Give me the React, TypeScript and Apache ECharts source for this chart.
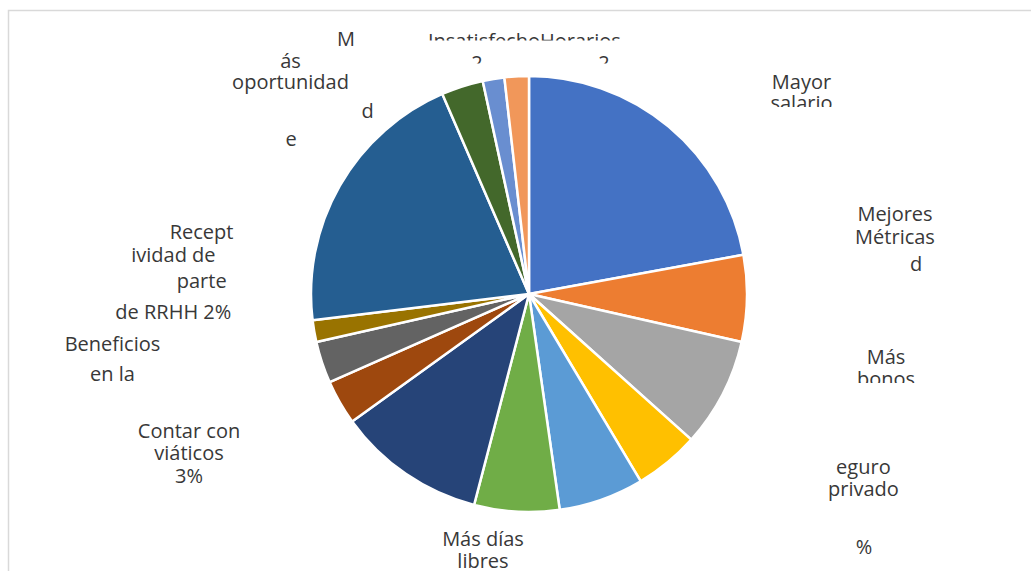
import React, { useEffect, useRef } from "react";
import * as echarts from "echarts";

// Categories (clockwise from 12 o'clock)
const categories = [
  "Mayor salario",
  "Mejores Métricas",
  "Más bonos",
  "Seguro privado",
  "Otro beneficio",
  "Más días libres",
  "Otro incentivo",
  "Contar con viáticos",
  "Beneficios en la empresa",
  "Receptividad de parte de RRHH",
  "Más oportunidad de crecimiento",
  "Otro motivo",
  "Insatisfecho",
  "Horarios",
];

// Share of answers (%)
const values = [22.1, 6.4, 8.1, 4.8, 6.3, 6.3, 11.0, 3.3, 3.1, 1.6, 20.4, 3.1, 1.6, 1.8];

const colors = [
  "#4472C4", "#ED7D31", "#A5A5A5", "#FFC000", "#5B9BD5", "#70AD47", "#264478",
  "#9E480E", "#636363", "#997300", "#255E91", "#43682B", "#698ED0", "#F1975A",
];

// Label fragments as they appear (text boxes wrapped/clipped like the original)
const labelTexts = [
  "M", "Insatisfecho", "Horarios", "2", "2", "ás\noportunidad", "d", "e",
  "Mayor\nsalario", "Mejores\nMétricas", "d", "Más\nbonos",
  "eguro\nprivado", "%",
  "Recept", "ividad de", "parte", "de RRHH 2%",
  "Beneficios\nen la",
  "Contar con\nviáticos\n3%",
  "Más días\nlibres",
];

// Layout of each label fragment: [x, y, align, lineHeight]
const labelLayout: [number, number, string, number][] = [
  [346, 38, "center", 20], [540, 40, "right", 20], [540, 40, "left", 20],
  [477, 62, "center", 20], [604, 62, "center", 20],
  [290.5, 70.5, "center", 21], [367.5, 110, "center", 20], [291, 138, "center", 20],
  [801.5, 91.75, "center", 21.5], [895, 224.5, "center", 23], [916, 263, "center", 20],
  [886, 367, "center", 22],
  [863.4, 477, "center", 22], [864, 546, "center", 20],
  [201.5, 231, "center", 20], [173.4, 254, "center", 20], [201.7, 280, "center", 20],
  [173.3, 311, "center", 20],
  [112.5, 358, "center", 30],
  [189, 452.5, "center", 22.5],
  [483, 549, "center", 22],
];

// Clipping of the text boxes (white masks): [x, y, w, h]
const clipMasks: [number, number, number, number][] = [
  [415, 40.5, 215, 13],
  [460, 63.5, 30, 10],
  [590, 63.5, 30, 10],
  [760, 107, 85, 12],
  [845, 383, 85, 12],
];

export default function App() {
  const ref = useRef<HTMLDivElement>(null);
  useEffect(() => {
    document.body.style.margin = "0";
    if (!ref.current) return;
    const chart = echarts.init(ref.current, undefined, { renderer: "svg" });
    const textEls = labelTexts.map((t, i) => ({
      type: "text",
      x: labelLayout[i][0],
      y: labelLayout[i][1],
      z: 10,
      style: {
        text: t,
        align: labelLayout[i][2],
        verticalAlign: "middle",
        lineHeight: labelLayout[i][3],
        fill: "#383838",
        fontFamily: "Open Sans",
        fontSize: 20,
      },
    }));
    const maskEls = clipMasks.map((m) => ({
      type: "rect",
      z: 20,
      shape: { x: m[0], y: m[1], width: m[2], height: m[3] },
      style: { fill: "#ffffff" },
      silent: true,
    }));
    chart.setOption({
      animation: false,
      color: colors,
      series: [
        {
          type: "pie",
          center: [529, 294],
          radius: [0, 218],
          startAngle: 90,
          clockwise: true,
          label: { show: false },
          labelLine: { show: false },
          itemStyle: { borderColor: "#ffffff", borderWidth: 2.5 },
          emphasis: { disabled: true },
          data: categories.map((c, i) => ({ name: c, value: values[i] })),
        },
      ],
      graphic: [
        {
          type: "rect",
          z: 0,
          shape: { x: 8.5, y: 10.5, width: 1200, height: 800 },
          style: { fill: "none", stroke: "#D9D9D9", lineWidth: 1.5 },
          silent: true,
        },
        ...textEls,
        ...maskEls,
      ],
    });
    return () => chart.dispose();
  }, []);
  return <div ref={ref} style={{ width: 1031, height: 571 }} />;
}
